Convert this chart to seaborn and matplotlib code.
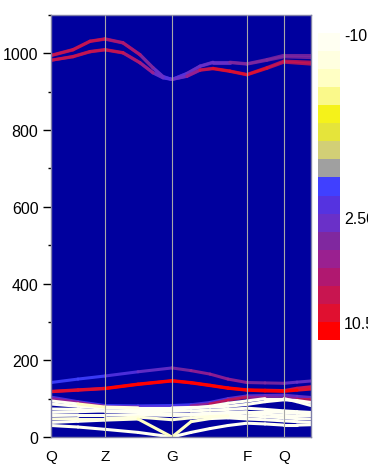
import numpy as np
import pandas as pd
import matplotlib
matplotlib.use("Agg")
import matplotlib.pyplot as plt
from matplotlib.colors import ListedColormap, Normalize
from matplotlib.ticker import MultipleLocator
import seaborn as sns

# ---------------- data ----------------
k_labels = ["Q", "Z", "G", "F", "Q"]
k_label_pos = [0, 54, 121, 196, 233]
k_grid = [0, 27, 54, 87, 121, 140, 159, 177, 196, 214, 233, 246, 260]
k_top = [0, 22, 39, 54, 72, 89, 102, 112, 121, 136, 149, 162, 179, 196, 216, 233, 260]

# upper optical branches (cm^-1) and their colour weights
top_a1 = [995, 1010, 1032, 1038, 1028, 997, 963, 940, 932, 948, 967, 977, 977, 973, 984, 995, 995]
top_a2 = [994, 1009, 1031, 1037, 1027, 996, 962, 939, 932, 947, 966, 976, 976, 972, 982, 991, 989]
top_b1 = [982, 992, 1005, 1010, 1002, 976, 950, 937, 932, 941, 957, 961, 954, 945, 963, 980, 977]
top_b2 = [982, 991, 1004, 1009, 1001, 975, 949, 936, 932, 940, 956, 960, 953, 944, 961, 977, 972]
col_top_a = [7, 7, 7, 7, 6.5, 5, 3, 2, 2, 2, 2.5, 3, 3.5, 3.5, 4, 4, 4]
col_top_b = [8, 8, 8, 7.5, 7, 6, 4, 2, 2, 3, 6, 8, 8.5, 9, 8, 7.5, 7]

# middle branches
mid_1 = [142, 151, 159, 170, 180, 173, 164, 151, 142, 141, 140, 143, 146]
mid_2 = [118, 122, 126, 137, 146, 141, 134, 127, 122, 120, 119, 122, 125]
mid_5 = [119, 123, 127, 138, 147, 142, 135, 128, 123, 122, 121, 127, 131]
mid_3 = [104, 92, 82, 81, 82, 84, 90, 100, 107, 108, 109, 106, 103]
mid_4 = [100, 90, 80, 80, 80, 81, 86, 96, 104, 104, 102, 100, 100]
col_mid_1 = [0.5, 0.5, 0.5, 2, 4, 4.5, 4.5, 4.5, 4.5, 4, 3.5, 3, 2]
col_mid_2 = [9, 9, 9, 10, 10.5, 10.5, 10.5, 10.5, 10.5, 10.5, 10.5, 9.5, 9]
col_mid_5 = [8.5, 8.5, 9, 10, 10.5, 10.5, 10, 10, 10, 9, 8, 7.5, 7.5]
col_mid_3 = [2, 1, 0.5, 0.5, 0.5, 1, 1.5, 2, 2.5, 2.5, 3, 3, 3]
col_mid_4 = [5, 5, 4, 2, 1, 3, 8, 8, 6, 4, 4, 7, 9]

# acoustic / low optical branches
low_1 = [30, 26, 20, 12, 0, 12, 22, 30, 36, 34, 31, 31, 32]
low_2 = [38, 41, 44, 47, 0, 40, 48, 50, 47, 45, 42, 40, 38]
low_3 = [47, 48, 48, 52, 45, 50, 53, 55, 55, 53, 50, 48, 47]
low_4 = [56, 57, 57, 58, 56, 57, 58, 60, 62, 60, 56, 55, 56]
low_5 = [64, 66, 68, 64, 60, 60, 62, 64, 66, 66, 64, 62, 60]
low_6 = [73, 72, 68, 68, 67, 68, 70, 72, 75, 72, 68, 66, 64]
low_7 = [86, 80, 75, 74, 73, 75, 80, 88, 94, 100, 100, 92, 82]
low_8 = [94, 86, 78, 76, 76, 77, 78, 80, 85, 92, 97, 95, 90]
col_low_1 = [-10] * 13
col_low_2 = [-9, -9, -9, -7, -7, -7, -9, -9, -9, -9, -9, -9, -9]
col_low_3 = [-9, -8, -8, -8, -8, -8, -8, -9, -9, -9, -9, -9, -9]
col_low_4 = [-10] * 13
col_low_5 = [-10, -10, -9, -9, -9, -9, -9, -10, -10, -10, -9, -9, -9]
col_low_6 = [-10] * 13
col_low_7 = [-10] * 13
col_low_8 = [-10, -9, -6, -10, -10, -10, -10, -10, -10, -10, -10, -10, -10]

# colour scale
cbar_colors = ["#FFFFF2", "#FFFFE0", "#FFFFC4", "#FAF98A", "#F5F21A", "#E5E43A",
               "#D2CF76", "#A0A0A0", "#4040FF", "#5533E0", "#6A30C8", "#80289F",
               "#9A2090", "#B01870", "#C81550", "#E01030", "#FF0000"]
c_min, c_max = -10, 10.5
cbar_tick_labels = ["-10", "2.50", "10.5"]
cbar_tick_pos = [0.05, 10.2, 16.0]

# ---------------- figure ----------------
sns.set_style("ticks")
plt.rcParams["font.family"] = ["Liberation Sans", "DejaVu Sans"]
for key in ["text.color", "xtick.color", "ytick.color", "axes.labelcolor"]:
    plt.rcParams[key] = "black"
plt.rcParams["lines.solid_capstyle"] = "round"
plt.rcParams["lines.solid_joinstyle"] = "round"

cmap = ListedColormap(cbar_colors)
norm = Normalize(c_min, c_max)

fig = plt.figure(figsize=(3.68, 4.77), dpi=100)
ax = fig.add_axes([51 / 368, 1 - 438 / 477, 260 / 368, 422 / 477])
ax.set_facecolor("#00009E")


def segments(kx, bands):
    rows = []
    sid = 0
    for y, c in bands:
        for i in range(len(kx) - 1):
            cv = 0.5 * (c[i] + c[i + 1])
            rows.append((sid, kx[i], y[i], cv))
            rows.append((sid, kx[i + 1], y[i + 1], cv))
            sid += 1
    return pd.DataFrame(rows, columns=["seg", "k", "freq", "w"])


groups = [
    (k_top, [(top_a1, col_top_a), (top_a2, col_top_a), (top_b1, col_top_b), (top_b2, col_top_b)], 0.85),
    (k_grid, [(mid_3, col_mid_3), (mid_4, col_mid_4), (mid_1, col_mid_1)], 0.9),
    (k_grid, [(low_1, col_low_1), (low_2, col_low_2), (low_3, col_low_3), (low_4, col_low_4),
              (low_5, col_low_5), (low_6, col_low_6), (low_7, col_low_7), (low_8, col_low_8)], 1.0),
    (k_grid, [(mid_5, col_mid_5), (mid_2, col_mid_2)], 1.0),
]
for kx, g, a in groups:
    df = segments(kx, g)
    sns.lineplot(data=df, x="k", y="freq", hue="w", units="seg", estimator=None,
                 palette=cmap, hue_norm=norm, linewidth=2.2, alpha=a,
                 legend=False, sort=False, ax=ax)

for xp in k_label_pos[1:]:
    ax.axvline(xp, color="#A8A8A8", lw=0.8, zorder=5)

ax.set_xlim(0, 260)
ax.set_ylim(0, 1100)
ax.set_xlabel("")
ax.set_ylabel("")
ax.set_xticks(k_label_pos)
ax.set_xticklabels(k_labels, fontsize=11)
ax.tick_params(axis="x", length=0, pad=9)
ax.yaxis.set_major_locator(MultipleLocator(200))
ax.yaxis.set_minor_locator(MultipleLocator(100))
ax.tick_params(axis="y", which="major", length=6, width=1, pad=3, labelsize=11.5,
               color="black")
ax.tick_params(axis="y", which="minor", length=2.5, width=1, color="black")
for s in ax.spines.values():
    s.set_color("#8080A8")
    s.set_linewidth(1)

# colour bar
cax = fig.add_axes([318 / 368, 1 - 341 / 477, 22 / 368, 307 / 477])
sns.heatmap(np.arange(len(cbar_colors)).reshape(-1, 1), cmap=cmap, cbar=False,
            ax=cax, xticklabels=False, yticklabels=False)
cax.yaxis.tick_right()
cax.set_yticks(cbar_tick_pos)
cax.set_yticklabels(cbar_tick_labels, fontsize=11.5, rotation=0)
cax.tick_params(axis="y", length=0, pad=3)
cax.set_xticks([])

fig.savefig("out.png", dpi=100)
